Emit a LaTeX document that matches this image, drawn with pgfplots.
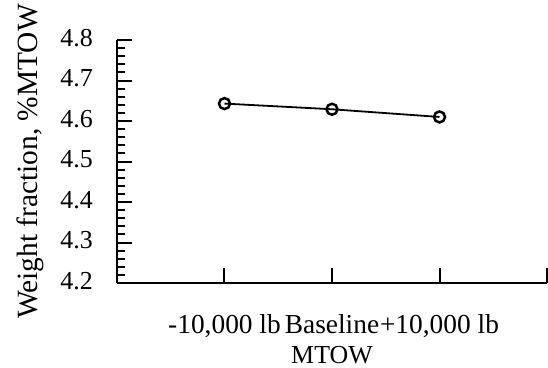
\documentclass[border=0pt]{standalone}
\usepackage{fontspec}
\setmainfont{Liberation Serif}
\usepackage{pgfplots}
\pgfplotsset{compat=1.18}
\begin{document}
\begin{tikzpicture}
\begin{axis}[
  at={(0,0)}, anchor=south west,
  scale only axis, width=430bp, height=243bp,
  xmin=0, xmax=4, ymin=4.2, ymax=4.8,
  axis x line*=bottom, axis y line*=left,
  xtick pos=lower, ytick pos=left,
  xtick={0,1,2,3,4},
  xticklabels={{},{-10,000 lb},{Baseline},{+10,000 lb},{}},
  ytick={4.2,4.3,4.4,4.5,4.6,4.7,4.8},
  minor y tick num=4,
  tick align=inside,
  major tick length=15bp, minor tick length=8bp,
  axis line style={line width=2bp, black},
  major tick style={line width=2bp, black},
  minor tick style={line width=2bp, black},
  /pgf/number format/assume math mode=true,
  yticklabel={\pgfmathprintnumber[fixed,fixed zerofill,precision=1]{\tick}},
  tick label style={inner sep=0pt},
  xticklabel style={font=\fontsize{27.5}{32}\selectfont, anchor=base, yshift=-50bp},
  yticklabel style={font=\fontsize{26}{30}\selectfont, anchor=base east, xshift=-24bp, yshift=-6bp},
  clip=false,
]
\addplot[black, line width=1.8bp, mark=o, mark size=5.5bp,
  mark options={line width=2.5bp, fill=white, solid}]
  coordinates {(1,4.643) (2,4.629) (3,4.610)};
\end{axis}
\node[rotate=90, anchor=base, font=\fontsize{29.5}{35}\selectfont] at (-79bp,121.5bp) {Weight fraction, \%MTOW};
\node[anchor=base, font=\fontsize{26}{30}\selectfont] at (215bp,-80bp) {MTOW};
\pgfresetboundingbox
\useasboundingbox (-117bp,-85bp) rectangle (431bp,283bp);
\end{tikzpicture}
\end{document}
